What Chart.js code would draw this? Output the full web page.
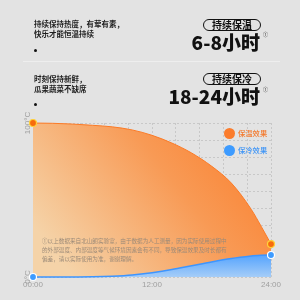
<!DOCTYPE html>
<html>
<head>
<meta charset="utf-8">
<script src="https://cdn.jsdelivr.net/npm/chart.js@4.4.1/dist/chart.umd.min.js"></script>
<style>
  html, body { margin: 0; padding: 0; }
  body { width: 300px; height: 300px; background: #e3e3e3; position: relative; overflow: hidden;
         font-family: "Noto Sans CJK SC", "Noto Sans", sans-serif; }
  #wrap { position: absolute; left: 0; top: 0; width: 300px; height: 300px; }
  .t { position: absolute; white-space: nowrap; }
  .intro { left: 34px; font-size: 7.5px; line-height: 10px; font-weight: 700; color: #1e1e1e; }
  .dot { position: absolute; width: 3px; height: 3px; border-radius: 50%; background: #111; left: 34px; }
  .pill { position: absolute; left: 203px; width: 58px; height: 12px; box-sizing: border-box;
          border: 1px solid #111; border-radius: 7px; text-align: center;
          font-size: 10px; line-height: 10px; font-weight: 700; color: #111; }
  .big { position: absolute; right: 40px; font-size: 19px; line-height: 19px; font-weight: 900; color: #111; }
  .sup { position: absolute; left: 263px; font-size: 5px; line-height: 5px; color: #333; }
  .leg { position: absolute; left: 224px; font-size: 7.3px; line-height: 11px; font-weight: 500; }
  .leg i { display: inline-block; width: 11px; height: 11px; border-radius: 50%; vertical-align: top; margin-right: 3px; }
  .note { left: 42px; font-size: 5.6px; line-height: 9px; color: #9b8a78; }
</style>
</head>
<body>
<div id="wrap"><canvas id="my-chart" width="300" height="300"></canvas></div>

<div class="t intro" style="top:19px">持续保持热度，有荤有素，</div>
<div class="t intro" style="top:29px">快乐才能恒温持续</div>
<div class="dot" style="top:49px"></div>
<div style="position:absolute;left:23px;top:61px;width:257px;height:1px;background:#eeeeee"></div>
<div class="t intro" style="top:74px">时刻保持新鲜，</div>
<div class="t intro" style="top:84px">瓜果蔬菜不缺席</div>
<div class="dot" style="top:103px"></div>

<div class="pill" style="top:19px">持续保温</div>
<div class="big" style="top:32px">6-8小时</div>
<div class="sup" style="top:31px">①</div>
<div class="pill" style="top:73px">持续保冷</div>
<div class="big" style="top:86px">18-24小时</div>
<div class="sup" style="top:86px">①</div>

<div class="leg" style="top:128px;color:#f47a2e"><i style="background:#fb7c2c"></i>保温效果</div>
<div class="leg" style="top:145px;color:#3f95f6"><i style="background:#3d9bff"></i>保冷效果</div>

<div class="t note" style="top:237px">①以上数据来自北山朗实验室，由于数据为人工测量，因为实际使用过程中</div>
<div class="t note" style="top:246px">的外部温度、内部温度等气候环境因素会有不同，导致保温效果及时长都有</div>
<div class="t note" style="top:255px">偏差，请以实际使用为准，谢谢理解。</div>

<script>
const hours = [0, 2, 4, 6, 8, 10, 12, 14, 16, 18, 20, 22, 23, 24];
const warmValues = [100, 99.8, 99.3, 98.5, 97.5, 95.5, 92, 87, 80.5, 72, 61, 44, 33, 21.4];
const coldValues = [0, 0, 0, 0.1, 0.5, 1.3, 2.8, 4.8, 7.3, 9.8, 12, 13.6, 14.2, 14.3];
const xTickLabels = { 0: '00:00', 12: '12:00', 24: '24:00' };
const yTickLabels = { 0: '0°C', 100: '100°C' };

const toPoints = (vals) => vals.map((v, i) => ({ x: hours[i], y: v }));
const endsOnly = (r) => (c) => (c.dataIndex === 0 || c.dataIndex === hours.length - 1 ? r : 0);

function warmFill(c) {
  const { ctx, chartArea } = c.chart;
  if (!chartArea) return '#f8a060';
  const g = ctx.createLinearGradient(chartArea.right, chartArea.top, chartArea.left + 40, chartArea.bottom);
  g.addColorStop(0, '#fb7a26');
  g.addColorStop(0.45, '#f89a55');
  g.addColorStop(1, '#f5d3a8');
  return g;
}

function coldFill(c) {
  const { ctx, chartArea } = c.chart;
  if (!chartArea) return '#6ab0ff';
  const g = ctx.createLinearGradient(0, chartArea.bottom - 25, 0, chartArea.bottom);
  g.addColorStop(0, '#4a9eff');
  g.addColorStop(1, '#a5cdf8');
  return g;
}

const ctx = document.getElementById('my-chart').getContext('2d');

new Chart(ctx, {
  type: 'line',
  data: {
    datasets: [
      {
        label: '保冷效果',
        data: toPoints(coldValues),
        borderColor: '#3d95ff',
        borderWidth: 1.5,
        backgroundColor: coldFill,
        fill: 'origin',
        cubicInterpolationMode: 'monotone',
        pointRadius: endsOnly(3.5),
        pointBackgroundColor: '#3d9bff',
        pointBorderColor: '#ffffff',
        pointBorderWidth: 1.2,
        clip: false,
      },
      {
        label: '保温效果',
        data: toPoints(warmValues),
        borderColor: '#fb7a26',
        borderWidth: 1,
        backgroundColor: warmFill,
        fill: 'origin',
        cubicInterpolationMode: 'monotone',
        pointRadius: endsOnly(3.5),
        pointBackgroundColor: '#f76b0c',
        pointBorderColor: '#ffd23a',
        pointBorderWidth: 1.2,
        clip: false,
      },
    ],
  },
  options: {
    responsive: false,
    animation: false,
    events: [],
    layout: { padding: { top: 123, right: 29, left: 0, bottom: 0 } },
    plugins: { legend: { display: false }, tooltip: { enabled: false } },
    scales: {
      x: {
        type: 'linear',
        min: 0,
        max: 24,
        z: 1,
        afterFit: (s) => { s.height = 23; },
        afterBuildTicks: (s) => { s.ticks = Array.from({ length: 11 }, (_, i) => ({ value: i * 2.4 })); },
        grid: { color: 'rgba(140,140,140,0.3)', drawTicks: false },
        border: { display: false, dash: [2, 2] },
        ticks: {
          padding: 3,
          maxRotation: 0,
          autoSkip: false,
          color: '#a0a0a0',
          font: { size: 8, family: 'Liberation Sans' },
          callback: (v) => xTickLabels[Math.round(v * 10) / 10] || '',
        },
      },
      y: {
        min: 0,
        max: 100,
        z: 1,
        afterFit: (s) => { s.width = 33; },
        afterBuildTicks: (s) => { s.ticks = Array.from({ length: 10 }, (_, i) => ({ value: i * 100 / 9 })); },
        grid: { color: 'rgba(140,140,140,0.3)', drawTicks: false },
        border: { display: false, dash: [2, 2] },
        ticks: {
          padding: -6,
          minRotation: 90,
          maxRotation: 90,
          crossAlign: 'center',
          autoSkip: false,
          color: '#a0a0a0',
          font: { size: 8, family: 'Liberation Sans' },
          callback: (v) => yTickLabels[Math.round(v)] || '',
        },
      },
    },
  },
});
</script>
</body>
</html>
